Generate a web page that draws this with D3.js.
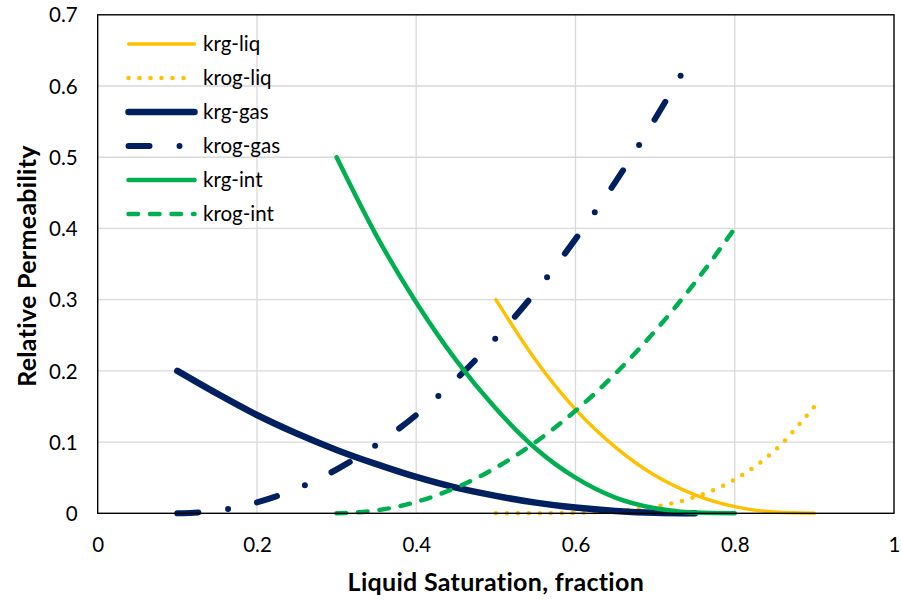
<!DOCTYPE html>
<html>
<head>
<meta charset="utf-8">
<script src="https://cdn.jsdelivr.net/npm/d3@7"></script>
<style>
  html, body { margin: 0; padding: 0; background: #ffffff; }
  svg { display: block; }
  text { font-family: Lato, "Open Sans", "DejaVu Sans", sans-serif; fill: #000; }
</style>
</head>
<body>
<svg id="chart" width="902" height="601"></svg>
<script>
// Liquid saturation samples for each pair of curves
const satLiq = [0.50, 0.55, 0.60, 0.65, 0.70, 0.75, 0.80, 0.85, 0.90];
const satGas = [0.10, 0.15, 0.20, 0.25, 0.30, 0.35, 0.40, 0.45, 0.50, 0.55, 0.60, 0.65, 0.70, 0.75];
const satGasOil = [0.10, 0.15, 0.20, 0.25, 0.30, 0.35, 0.40, 0.45, 0.50, 0.55, 0.60, 0.65, 0.70, 0.735];
const satInt = [0.30, 0.35, 0.40, 0.45, 0.50, 0.55, 0.60, 0.65, 0.70, 0.75, 0.80];

// Relative permeability values
const krgLiq  = [0.300, 0.215, 0.146, 0.093, 0.053, 0.026, 0.0094, 0.0017, 0];
const krogLiq = [0, 0.00004, 0.0006, 0.003, 0.0094, 0.0229, 0.0475, 0.088, 0.150];
const krgGas  = [0.200, 0.168, 0.138, 0.112, 0.089, 0.069, 0.051, 0.036, 0.0245, 0.015, 0.008, 0.0033, 0.0007, 0];
const krogGas = [0, 0.0038, 0.0154, 0.0346, 0.0615, 0.0961, 0.138, 0.188, 0.246, 0.311, 0.385, 0.465, 0.554, 0.620];
const krgInt  = [0.500, 0.390, 0.296, 0.215, 0.147, 0.091, 0.050, 0.022, 0.007, 0.001, 0];
const krogInt = [0, 0.004, 0.016, 0.036, 0.064, 0.100, 0.144, 0.196, 0.256, 0.324, 0.400];

// Axis ticks
const xTicks = [0, 0.2, 0.4, 0.6, 0.8, 1];
const yTicks = [0, 0.1, 0.2, 0.3, 0.4, 0.5, 0.6, 0.7];

const seriesNames = ["krg-liq", "krog-liq", "krg-gas", "krog-gas", "krg-int", "krog-int"];

const YELLOW = "#FFC000", NAVY = "#002060", GREEN = "#00B050";

const series = [
  { name: seriesNames[0], sat: satLiq,    val: krgLiq,  color: YELLOW, width: 3.5, dash: null },
  { name: seriesNames[1], sat: satLiq,    val: krogLiq, color: YELLOW, width: 4.5, dash: "0,11" },
  { name: seriesNames[2], sat: satGas,    val: krgGas,  color: NAVY,   width: 6.5, dash: null },
  { name: seriesNames[3], sat: satGasOil, val: krogGas, color: NAVY,   width: 6,   dash: "21,30,0,29.6" },
  { name: seriesNames[4], sat: satInt,    val: krgInt,  color: GREEN,  width: 4.5, dash: null },
  { name: seriesNames[5], sat: satInt,    val: krogInt, color: GREEN,  width: 4.5, dash: "9.5,12" }
];

const svg = d3.select("#chart");
const plot = { left: 97.7, right: 894, top: 14.8, bottom: 513.3 };

const x = d3.scaleLinear().domain([0, 1]).range([plot.left, plot.right]);
const y = d3.scaleLinear().domain([0, 0.7]).range([plot.bottom, plot.top]);

// Gridlines
const grid = svg.append("g");
grid.selectAll("line.gx").data(xTicks.slice(1, -1)).join("line")
  .attr("x1", d => x(d)).attr("x2", d => x(d))
  .attr("y1", plot.top).attr("y2", plot.bottom)
  .attr("stroke", "#d9d9d9").attr("stroke-width", 1.3);
grid.selectAll("line.gy").data(yTicks.slice(1, -1)).join("line")
  .attr("x1", plot.left).attr("x2", plot.right)
  .attr("y1", d => y(d)).attr("y2", d => y(d))
  .attr("stroke", "#d9d9d9").attr("stroke-width", 1.3);

// Axes (labels only; frame drawn separately)
const xAxis = svg.append("g")
  .attr("transform", `translate(0,${plot.bottom})`)
  .call(d3.axisBottom(x).tickValues(xTicks).tickSize(0).tickPadding(0).tickFormat(d3.format("")));
xAxis.select(".domain").remove();
xAxis.selectAll("text").attr("y", 32).attr("dy", "0.35em")
  .style("font-size", "20.5px").style("font-family", "Lato, sans-serif");

const yAxis = svg.append("g")
  .attr("transform", `translate(${plot.left},0)`)
  .call(d3.axisLeft(y).tickValues(yTicks).tickSize(0).tickPadding(0).tickFormat(d3.format("")));
yAxis.select(".domain").remove();
yAxis.selectAll("text").attr("x", -20).attr("dy", "0.35em")
  .style("font-size", "20.5px").style("font-family", "Lato, sans-serif");

// Curves
const line = d3.line().curve(d3.curveMonotoneX);
const curves = svg.append("g");
series.forEach(s => {
  const pts = s.sat.map((v, i) => [x(v), y(s.val[i])]);
  curves.append("path")
    .attr("d", line(pts))
    .attr("fill", "none")
    .attr("stroke", s.color)
    .attr("stroke-width", s.width)
    .attr("stroke-linecap", "round")
    .attr("stroke-linejoin", "round")
    .attr("stroke-dasharray", s.dash);
});

// Plot frame
svg.append("rect")
  .attr("x", plot.left).attr("y", plot.top)
  .attr("width", plot.right - plot.left).attr("height", plot.bottom - plot.top)
  .attr("fill", "none").attr("stroke", "#000").attr("stroke-width", 1.4);

// Legend
const legend = svg.append("g");
const legX0 = 128.5, legX1 = 194.5, legTextX = 203, legY0 = 44, legStep = 34;
series.forEach((s, i) => {
  const ly = legY0 + i * legStep;
  legend.append("line")
    .attr("x1", legX0).attr("x2", legX1).attr("y1", ly).attr("y2", ly)
    .attr("stroke", s.color)
    .attr("stroke-width", s.width)
    .attr("stroke-linecap", "round")
    .attr("stroke-dasharray", s.dash);
  legend.append("text")
    .attr("x", legTextX).attr("y", ly).attr("dy", "0.35em")
    .style("font-size", "20.5px")
    .text(s.name);
});

// Axis titles
svg.append("text")
  .attr("x", (plot.left + plot.right) / 2).attr("y", 582)
  .attr("text-anchor", "middle").attr("dy", "0.35em")
  .style("font-size", "25px").style("font-weight", "bold").style("letter-spacing", "0.3px")
  .text("Liquid Saturation, fraction");

svg.append("text")
  .attr("transform", `translate(27,${(plot.top + plot.bottom) / 2 + 2}) rotate(-90)`)
  .attr("text-anchor", "middle").attr("dy", "0.35em")
  .style("font-size", "25px").style("font-weight", "bold").style("letter-spacing", "0.3px")
  .text("Relative Permeability");
</script>
</body>
</html>
